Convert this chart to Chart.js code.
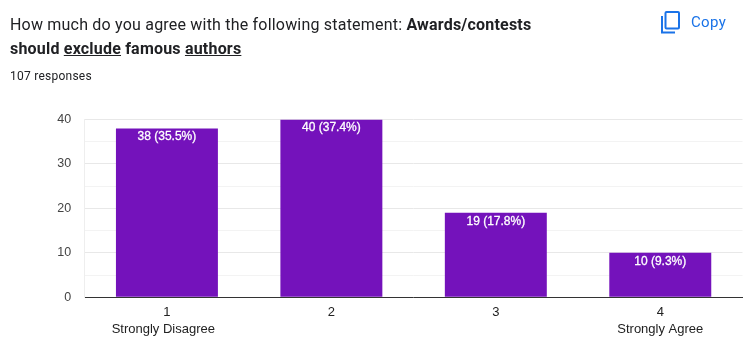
<!DOCTYPE html>
<html>
<head>
<meta charset="utf-8">
<script src="https://cdn.jsdelivr.net/npm/chart.js@4"></script>
<style>
  html, body { margin: 0; padding: 0; background: #fff; }
  #wrap { position: relative; width: 751px; height: 356px; overflow: hidden; }
  #wrap canvas { position: absolute; left: 0; top: 0; }
  .title { position: absolute; left: 10px; top: 12.5px; width: 600px; font: 16px/24px Roboto, sans-serif; color: #202124; letter-spacing: 0.2px; }
  .title b { font-weight: 700; }
  .sub { position: absolute; left: 10px; top: 68px; font: 12px/16px Roboto, sans-serif; color: #202124; letter-spacing: 0.25px; }
  .copy { position: absolute; left: 691px; top: 12px; font: 15px/20px Roboto, sans-serif; color: #1a73e8; letter-spacing: 0.35px; }
  svg.icon { position: absolute; left: 660px; top: 10px; }
</style>
</head>
<body>
<div id="wrap">
  <canvas id="surveyChart" width="751" height="356"></canvas>
  <div class="title">How much do you agree with the following statement: <b>Awards/contests<br>should <u>exclude</u> famous <u>authors</u></b></div>
  <div class="sub">107 responses</div>
  <svg class="icon" width="21" height="24" viewBox="0 0 21 24">
    <path d="M15 22.5H2V6" fill="none" stroke="#1a73e8" stroke-width="2"/>
    <rect x="5.5" y="2" width="13.5" height="16.5" rx="1" fill="none" stroke="#1a73e8" stroke-width="2"/>
  </svg>
  <div class="copy">Copy</div>
</div>
<script>
// trailing spaces: the reference sits this label a little left of its tick
const categories = [["1", "Strongly Disagree  "], "2", "3", ["4", "Strongly Agree"]];
const responses = [38, 40, 19, 10];
const barLabels = ["38 (35.5%)", "40 (37.4%)", "19 (17.8%)", "10 (9.3%)"];
const majorTicks = [0, 10, 20, 30, 40];

// label inside the top of each bar
const barLabelPlugin = {
  id: "barLabels",
  afterDatasetsDraw(chart) {
    const ctx = chart.ctx;
    ctx.save();
    ctx.fillStyle = "#ffffff";
    ctx.strokeStyle = "#ffffff";
    ctx.lineWidth = 0.3;
    ctx.font = "12px 'Liberation Sans', Arial, sans-serif";
    ctx.textAlign = "center";
    ctx.textBaseline = "top";
    chart.getDatasetMeta(0).data.forEach((bar, i) => {
      ctx.fillText(barLabels[i], bar.x, bar.y + 2.5);
      ctx.strokeText(barLabels[i], bar.x, bar.y + 2.5);
    });
    ctx.restore();
  },
};

new Chart(document.getElementById("surveyChart"), {
  type: "bar",
  data: {
    labels: categories,
    datasets: [
      {
        data: responses,
        backgroundColor: "#7412bb",
        barPercentage: 0.62,
        categoryPercentage: 1,
      },
    ],
  },
  options: {
    responsive: false,
    animation: false,
    layout: { padding: { top: 119.5, right: 8.5 } },
    plugins: { legend: { display: false }, tooltip: { enabled: false } },
    scales: {
      x: {
        afterFit: (scale) => { scale.height = 58.7; },
        grid: { display: false, drawTicks: false },
        border: { color: "#333333", width: 1 },
        ticks: {
          color: "#222222",
          padding: 6.5,
          font: { family: "'Liberation Sans', Arial, sans-serif", size: 13, lineHeight: 1.3 },
          maxRotation: 0,
        },
      },
      y: {
        min: 0,
        max: 40,
        afterFit: (scale) => { scale.width = 84.7; },
        grid: {
          drawTicks: false,
          color: (c) => (majorTicks.includes(c.tick.value) ? "#e8e8e8" : "#f3f3f3"),
        },
        border: { color: "#eeeeee" },
        ticks: {
          stepSize: 5,
          color: "#444444",
          padding: 13.5,
          font: { family: "'Liberation Sans', Arial, sans-serif", size: 12.5 },
          callback: (v) => (majorTicks.includes(v) ? v : ""),
        },
      },
    },
  },
  plugins: [barLabelPlugin],
});
</script>
</body>
</html>
